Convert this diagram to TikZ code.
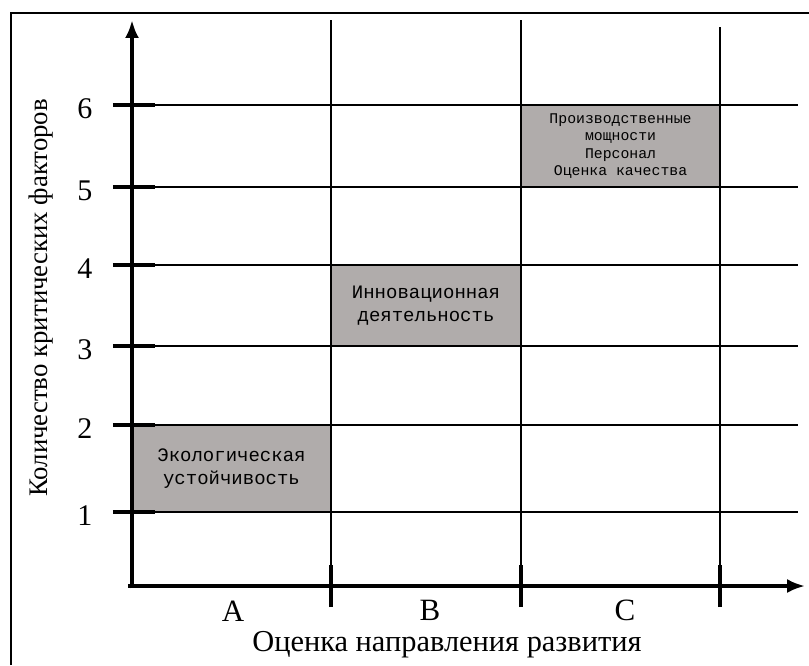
\documentclass[tikz,border=0pt]{standalone}
\usepackage{fontspec}
\setmainfont{Liberation Serif}
\newfontfamily\cellfont{Liberation Mono}
\usetikzlibrary{arrows.meta,positioning}
\definecolor{CellGray}{RGB}{176,172,171}
\tikzset{
  axisline/.style={line width=2pt,-{Latex[length=9pt,width=7pt]}},
  gridline/.style={line width=0.75pt},
  tickmark/.style={line width=2.2pt},
  cell/.style={fill=CellGray,inner sep=0pt,align=center,
    font=\cellfont\fontsize{9.5}{11.5}\selectfont},
  collabel/.style={inner sep=0pt,font=\fontsize{15.5}{16}\selectfont},
}
\begin{document}
\begin{tikzpicture}[x=98pt,y=40pt,>=Latex]
      \useasboundingbox (-0.6735,-0.9875) rectangle (3.454,7.325);
      \draw[line width=0.9pt] (-0.617,-0.9875) -- (-0.617,7.1625) -- (3.454,7.1625);
      % shaded cells
      \node[cell,minimum width=99.5pt,minimum height=43.5pt] (eco) at (0.5075,1.469)
        {Экологическая\\устойчивость};
      \node[cell,minimum width=95pt,minimum height=40.5pt] (innov) at (1.5,3.506)
        {Инновационная\\деятельность};
      \node[cell,minimum width=99.5pt,minimum height=41pt,
        font=\cellfont\fontsize{7.4}{8.75}\selectfont] (prod) at (2.4925,5.5)
        {Производственные\\мощности\\Персонал\\Оценка качества};
      % rows
      \foreach \k/\yk in {1/0.925,2/2.0125,3/3.0,4/4.0125,5/4.9875,6/6.0125}{
        \draw[gridline] (0,\yk) -- (3.398,\yk);
        \draw[tickmark] (-0.097,\yk) -- (0.117,\yk);
        \node[font=\fontsize{15}{17}\selectfont] (num\k) at (-0.24,\yk-0.05) {\k};
      }
      % columns
      \foreach \xi/\top in {1.015/7.075,1.985/7.075,3.0/6.99}{
        \draw[gridline] (\xi,0) -- (\xi,\top);
        \draw[tickmark] (\xi,-0.2625) -- (\xi,0.2625);
      }
      % axes
      \coordinate (ybot) at (0,-0.03);
      \coordinate (ytop) at (0,7.075);
      \coordinate (xbeg) at (-0.02,0);
      \coordinate (xend) at (3.434,0);
      \draw[axisline] (ybot) -- (ytop);
      \draw[axisline] (xbeg) -- (xend);
      \node[collabel] (colA) at (0.515,-0.31) {A};
      \node[collabel] (colB) at (1.52,-0.31) {B};
      \node[collabel] (colC) at (2.515,-0.31) {C};
      \node[inner sep=0pt,font=\fontsize{15.2}{16}\selectfont] (xlab) at (1.607,-0.735)
        {Оценка направления развития};
      \node[rotate=90,font=\fontsize{13.4}{15}\selectfont] (ylab) at (-0.464,3.6)
        {Количество критических факторов};
    \end{tikzpicture}
\end{document}
